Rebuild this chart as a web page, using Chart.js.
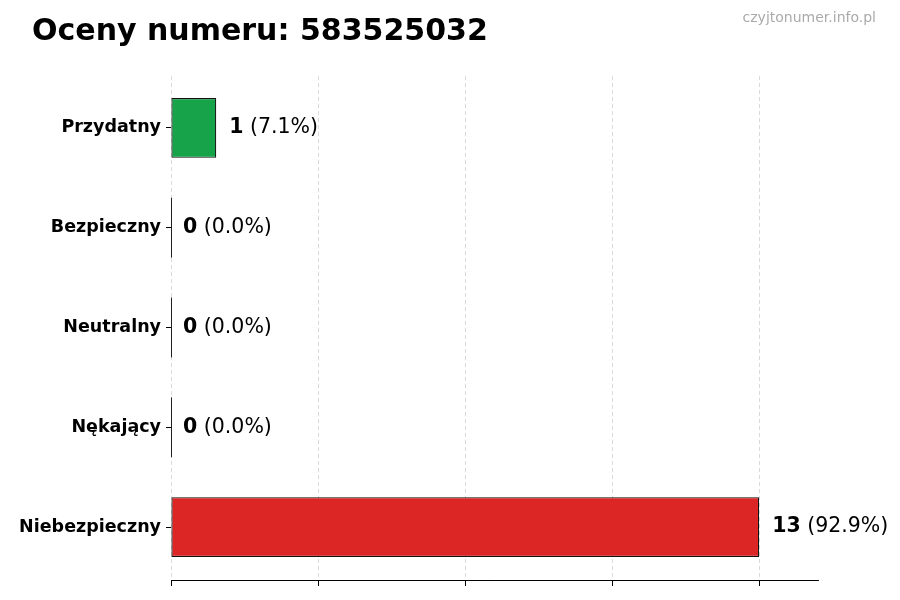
<!DOCTYPE html>
<html><head><meta charset="utf-8">
<script src="https://cdn.jsdelivr.net/npm/chart.js@4.4.1/dist/chart.umd.min.js"></script>
<style>html,body{margin:0;padding:0;background:#fff}#wrap{width:900px;height:600px}</style>
</head><body><div id="wrap"><canvas id="c" width="900" height="600"></canvas></div>
<script>
const title = 'Oceny numeru: 583525032';
const watermark = 'czyjtonumer.info.pl';
const categories = ['Przydatny', 'Bezpieczny', 'Neutralny', 'Nękający', 'Niebezpieczny'];
const counts = [1, 0, 0, 0, 13];
const percents = ['7.1%', '0.0%', '0.0%', '0.0%', '92.9%'];
const barColors = ['#16a34a', '#6b7280', '#9ca3af', '#f97316', '#dc2626'];
const xTicks = [0, 3.25, 6.5, 9.75, 13];
const xMax = 14.3;
const FONT = '"DejaVu Sans", sans-serif';

const overlay = {
  id: 'overlay',
  afterDatasetsDraw(chart) {
    const ctx = chart.ctx;
    const meta = chart.getDatasetMeta(0);
    ctx.save();
    meta.data.forEach((bar, i) => {
      const h = bar.height;
      if (counts[i] === 0) {
        ctx.strokeStyle = '#222';
        ctx.lineWidth = 1;
        ctx.beginPath();
        ctx.moveTo(bar.base + 0.5, bar.y - h / 2);
        ctx.lineTo(bar.base + 0.5, bar.y + h / 2);
        ctx.stroke();
      }
      const x0 = Math.max(bar.x, bar.base) + (counts[i] === 0 ? 12 : 13);
      ctx.textBaseline = 'middle';
      ctx.textAlign = 'left';
      ctx.fillStyle = '#000';
      ctx.font = 'bold 20.5px ' + FONT;
      const a = String(counts[i]);
      ctx.fillText(a, x0, bar.y);
      const w = ctx.measureText(a).width;
      ctx.font = '20.5px ' + FONT;
      ctx.fillText(' (' + percents[i] + ')', x0 + w, bar.y);
    });
    ctx.restore();
  },
  afterDraw(chart) {
    const ctx = chart.ctx;
    ctx.save();
    ctx.fillStyle = '#000';
    ctx.font = 'bold 30px ' + FONT;
    ctx.textBaseline = 'alphabetic';
    ctx.textAlign = 'left';
    ctx.fillText(title, 32, 40);
    ctx.fillStyle = '#aaaaaa';
    ctx.font = '14px ' + FONT;
    ctx.textAlign = 'right';
    ctx.fillText(watermark, 876, 22);
    ctx.restore();
  }
};

new Chart(document.getElementById('c'), {
  type: 'bar',
  data: {
    datasets: [{
      data: counts.map((v, i) => ({ x: v, y: i })),
      backgroundColor: barColors,
      borderColor: '#111',
      borderWidth: 1.2,
      borderSkipped: false,
      barPercentage: 0.6,
      categoryPercentage: 1.0
    }]
  },
  options: {
    indexAxis: 'y',
    responsive: false,
    animation: false,
    devicePixelRatio: 1,
    layout: { padding: { left: 0, right: 82, top: 76, bottom: 0 } },
    plugins: { legend: { display: false }, tooltip: { enabled: false }, title: { display: false } },
    scales: {
      x: {
        type: 'linear',
        min: 0, max: xMax,
        z: 1,
        offset: false,
        afterBuildTicks(scale) { scale.ticks = xTicks.map(v => ({ value: v })); },
        afterFit(scale) { scale.height = 20; },
        ticks: { display: false },
        grid: {
          color: 'rgba(170,170,170,0.55)',
          lineWidth: 0.8,
          drawTicks: true,
          tickLength: 6,
          tickColor: '#000',
          tickWidth: 1,
          tickBorderDash: []
        },
        border: { display: true, color: '#000', width: 1, dash: [4, 3] }
      },
      y: {
        type: 'linear',
        reverse: true,
        offset: false,
        min: -0.52, max: 4.53,
        afterBuildTicks(scale) { scale.ticks = categories.map((c, i) => ({ value: i })); },
        afterFit(scale) { scale.width = 171; },
        ticks: {
          color: '#000', font: { family: FONT, size: 17.5, weight: 'bold' }, padding: 5,
          callback: (v) => categories[v]
        },
        grid: { drawOnChartArea: false, drawTicks: true, tickLength: 5, tickColor: '#000', tickWidth: 1, offset: false },
        border: { display: false }
      }
    }
  },
  plugins: [overlay]
});
</script>
</body></html>
